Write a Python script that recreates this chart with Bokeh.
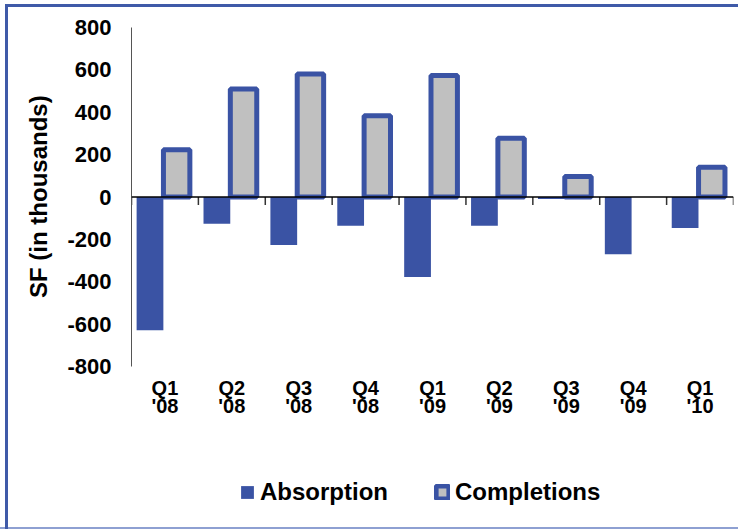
from bokeh.plotting import figure
from bokeh.models import (FactorRange, Range1d, FixedTicker, Legend, LegendItem,
                          Span, ColumnDataSource, Title)
from bokeh.core.properties import value
from bokeh.transform import dodge
from bokeh.embed import file_html
from bokeh.resources import INLINE

# ---- data ----
quarters = ["Q1", "Q2", "Q3", "Q4", "Q1", "Q2", "Q3", "Q4", "Q1"]
years = ["'08", "'08", "'08", "'08", "'09", "'09", "'09", "'09", "'10"]
categories = [f"{q} {y}" for q, y in zip(quarters, years)]
absorption = [-629, -126, -226, -136, -377, -136, -10, -270, -146]
completions = [223, 510, 581, 384, 574, 277, 97, 0, 141]
y_ticks = [-800, -600, -400, -200, 0, 200, 400, 600, 800]
y_title = "SF (in thousands)"

BLUE = "#3a53a4"
GRAY = "#c0c0c0"
FRAME_BLUE = "#3f5aa8"
FONT = "Liberation Sans"

W, H = 738, 529
TOP, BOTTOM, LEFT, RIGHT = 27, 2, 131, 5
AXIS_PX = 339                      # pixel length of the value axis
frame_h = H - TOP - BOTTOM
k = (y_ticks[-1] - y_ticks[0]) / AXIS_PX   # data units per pixel
y_lo = y_ticks[-1] - frame_h * k


def y_at(px):
    """data value at a pixel row measured from the frame top"""
    return y_ticks[-1] - px * k


p = figure(width=W, height=H, x_range=FactorRange(*categories),
           y_range=Range1d(y_lo, y_ticks[-1]),
           output_backend="svg", toolbar_location=None,
           min_border_left=LEFT, min_border_right=RIGHT,
           min_border_top=TOP, min_border_bottom=BOTTOM)
p.x_range.range_padding = 0
p.outline_line_color = None
p.border_fill_color = None
p.background_fill_color = None
p.xgrid.visible = False
p.ygrid.visible = False
p.xaxis.visible = False
p.styles = {
    "background": (
        f"linear-gradient({FRAME_BLUE},{FRAME_BLUE}) 5px 4px / 100% 3px no-repeat, "
        f"linear-gradient({FRAME_BLUE},{FRAME_BLUE}) 5px 4px / 3px 100% no-repeat, "
        "linear-gradient(#8ea0d2,#8ea0d2) 0 100% / 100% 2px no-repeat, white"
    )
}

src_a = ColumnDataSource(dict(x=categories, top=absorption))
comp_x = [c for c, v in zip(categories, completions) if v != 0]
comp_v = [v for v in completions if v != 0]
src_c = ColumnDataSource(dict(x=comp_x, top=comp_v))

r_a = p.vbar(x=dodge("x", -0.2235, range=p.x_range), top="top", bottom=0,
             width=0.4, source=src_a, fill_color=BLUE, line_color=None)
r_c = p.vbar(x=dodge("x", 0.175, range=p.x_range), top="top", bottom=0,
             width=0.395, source=src_c, fill_color=GRAY, line_color=BLUE,
             line_width=5)

# zero line and category-boundary tick marks
p.add_layout(Span(location=0, dimension="width", line_color="black",
                  line_width=1.5))
bounds = list(range(len(categories) + 1))
p.segment(x0=bounds, x1=bounds, y0=[0] * len(bounds),
          y1=[-8 * k] * len(bounds), line_color="#333333", line_width=1.5)

# category labels (two rows)
for row_text, row_px in ((quarters, 360), (years, 378)):
    p.text(x=categories, y=[y_at(row_px)] * len(categories), text=row_text,
           text_align="center", text_baseline="alphabetic",
           text_font=value(FONT), text_font_style="bold",
           text_font_size="20px", text_color="black")

# y axis
ya = p.yaxis[0]
ya.bounds = (y_ticks[0], y_ticks[-1])
ya.ticker = FixedTicker(ticks=y_ticks)
ya.major_label_overrides = {float(t): str(t) for t in y_ticks}
ya.major_tick_out = 0
ya.major_tick_in = 0
ya.minor_tick_out = 0
ya.minor_tick_in = 0
ya.axis_line_color = "#555555"
ya.axis_line_width = 1
ya.major_label_text_font = FONT
ya.major_label_text_font_style = "bold"
ya.major_label_text_font_size = "22px"
ya.major_label_text_color = "black"
ya.major_label_standoff = 20

# y title, centred on the value axis (not on the taller frame)
title_px = 202
offset = (frame_h - AXIS_PX / 2) - title_px / 2
p.add_layout(Title(text=y_title, align="left", offset=offset,
                   text_font=FONT, text_font_style="bold",
                   text_font_size="24px", text_color="black",
                   standoff=26), "left")

legend = Legend(items=[LegendItem(label="Absorption", renderers=[r_a]),
                       LegendItem(label="Completions", renderers=[r_c])],
                orientation="horizontal", location=(108, 21),
                border_line_color=None, background_fill_color=None,
                padding=0, margin=0, spacing=46, label_standoff=5,
                glyph_width=16, glyph_height=16,
                label_text_font=FONT, label_text_font_style="bold",
                label_text_font_size="24px", label_text_color="black")
p.add_layout(legend, "center")

open("out.html", "w").write(file_html(p, INLINE))
